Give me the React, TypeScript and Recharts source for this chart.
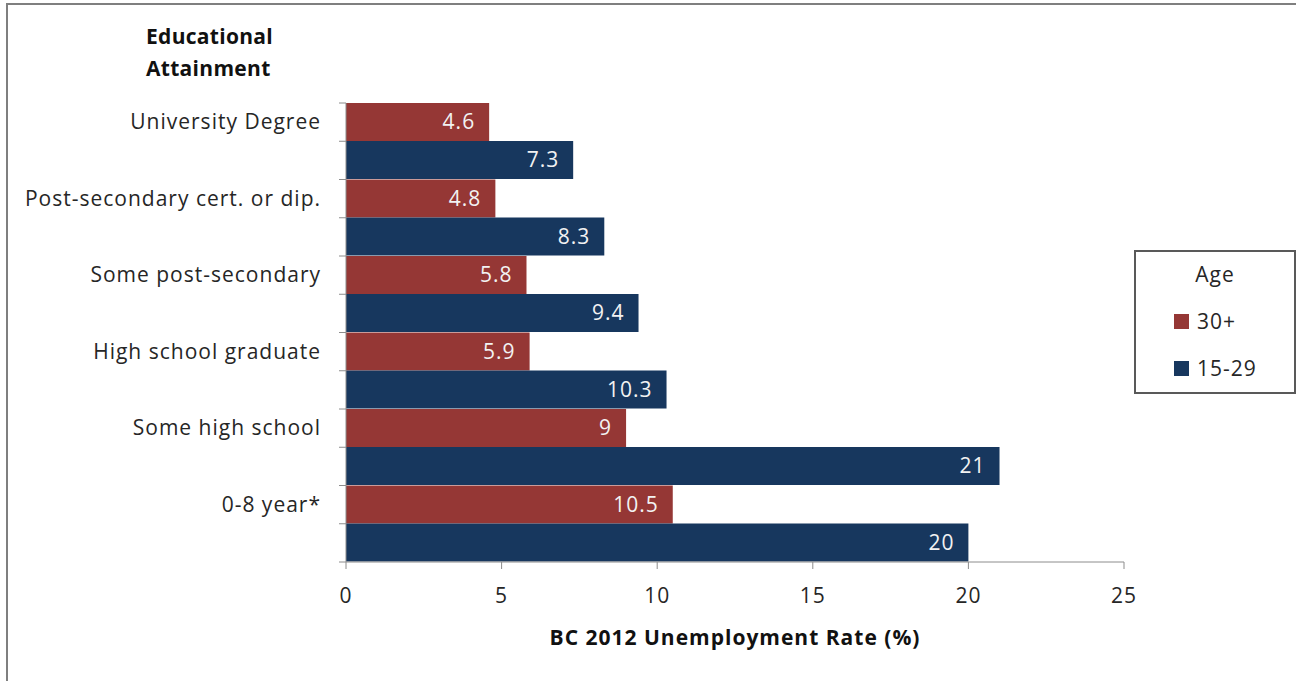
import { Bar, BarChart, LabelList, Legend, XAxis, YAxis } from "recharts";

// categories, top to bottom
const categories = [
  "University Degree",
  "Post-secondary cert. or dip.",
  "Some post-secondary",
  "High school graduate",
  "Some high school",
  "0-8 year*",
];
const age30plus = [4.6, 4.8, 5.8, 5.9, 9, 10.5];
const age15to29 = [7.3, 8.3, 9.4, 10.3, 21, 20];
const xTicks = [0, 5, 10, 15, 20, 25];

const RED = "#953735";
const BLUE = "#17375e";
const AXIS = "#8c8c8c";
const FONT = "'Open Sans', 'Noto Sans', sans-serif";
const FS = 21;
const LS = 1;

const W = 1296;
const H = 681;
const PLOT_LEFT = 346;
const PLOT_TOP = 103;
const PLOT_BOTTOM = 562;
const BAND = (PLOT_BOTTOM - PLOT_TOP) / categories.length;

const data = categories.map((name, i) => ({
  name,
  a30: age30plus[i],
  a15: age15to29[i],
}));

function CategoryTick(props: any) {
  const { y, payload, index } = props;
  const half = BAND / 2;
  const x = PLOT_LEFT;
  return (
    <g>
      <text
        x={x - 25}
        y={y - half / 2}
        dy="0.35em"
        textAnchor="end"
        fill="#262626"
        fontSize={FS}
        letterSpacing={LS}
        fontFamily={FONT}
      >
        {payload.value}
      </text>
      <line x1={x - 7} x2={x} y1={y - half} y2={y - half} stroke={AXIS} />
      <line x1={x - 7} x2={x} y1={y} y2={y} stroke={AXIS} />
      {index === categories.length - 1 && (
        <line x1={x - 7} x2={x} y1={y + half} y2={y + half} stroke={AXIS} />
      )}
    </g>
  );
}

function AgeLegend() {
  const items = [
    { label: "30+", color: RED },
    { label: "15-29", color: BLUE },
  ];
  return (
    <div
      style={{
        width: 162,
        height: 144,
        border: "2px solid #595959",
        boxSizing: "border-box",
        fontFamily: FONT,
        fontSize: FS,
        letterSpacing: LS,
        color: "#262626",
        background: "#fff",
      }}
    >
      <div style={{ textAlign: "center", marginTop: 9, lineHeight: "26px" }}>Age</div>
      {items.map((it, i) => (
        <div
          key={it.label}
          style={{
            display: "flex",
            alignItems: "center",
            marginLeft: 38,
            marginTop: i === 0 ? 21 : 21,
            lineHeight: "26px",
          }}
        >
          <span
            style={{
              display: "inline-block",
              width: 15,
              height: 15,
              background: it.color,
              marginRight: 8,
            }}
          />
          {it.label}
        </div>
      ))}
    </div>
  );
}

export default function App() {
  const labelStyle = {
    fill: "#f2f2f2",
    fontSize: FS,
    fontFamily: FONT,
    letterSpacing: LS,
  };
  return (
    <div
      style={{
        position: "absolute",
        left: 0,
        top: 0,
        width: W,
        height: H,
        overflow: "hidden",
        background: "#fff",
      }}
    >
      <div
        style={{
          position: "absolute",
          left: 6,
          top: 3,
          width: W + 20,
          height: H + 20,
          border: "2px solid #7f7f7f",
          boxSizing: "border-box",
        }}
      />
      <div
        style={{
          position: "absolute",
          left: 146,
          top: 20,
          fontFamily: FONT,
          fontWeight: 700,
          fontSize: FS,
          letterSpacing: 0.3,
          lineHeight: "32px",
          color: "#111",
        }}
      >
        Educational
        <br />
        Attainment
      </div>
      <div style={{ position: "absolute", left: 0, top: 0 }}>
        <BarChart
          width={W}
          height={H}
          data={data}
          layout="vertical"
          barCategoryGap={0}
          barGap={0}
          margin={{ top: PLOT_TOP, right: W - 1124, bottom: H - PLOT_BOTTOM - 90, left: 10 }}
        >
          <XAxis
            type="number"
            domain={[0, 25]}
            ticks={xTicks}
            stroke={AXIS}
            tickSize={7}
            tickMargin={19}
            height={90}
            tick={{ fill: "#262626", fontSize: FS, fontFamily: FONT, letterSpacing: LS }}
            label={{
              value: "BC 2012 Unemployment Rate (%)",
              position: "insideBottom",
              offset: 7,
              fill: "#111",
              fontSize: FS,
              fontWeight: 700,
              letterSpacing: LS,
              fontFamily: FONT,
            }}
          />
          <YAxis
            type="category"
            dataKey="name"
            width={PLOT_LEFT - 10}
            stroke={AXIS}
            tickLine={false}
            tick={<CategoryTick />}
            interval={0}
          />
          <Legend
            layout="vertical"
            align="center"
            verticalAlign="middle"
            content={<AgeLegend />}
            wrapperStyle={{ position: "absolute", left: 1134, top: 250, width: 162 }}
          />
          <Bar dataKey="a30" name="30+" fill={RED} isAnimationActive={false}>
            <LabelList dataKey="a30" position="insideRight" offset={14} {...labelStyle} />
          </Bar>
          <Bar dataKey="a15" name="15-29" fill={BLUE} isAnimationActive={false}>
            <LabelList dataKey="a15" position="insideRight" offset={14} {...labelStyle} />
          </Bar>
        </BarChart>
      </div>
    </div>
  );
}
